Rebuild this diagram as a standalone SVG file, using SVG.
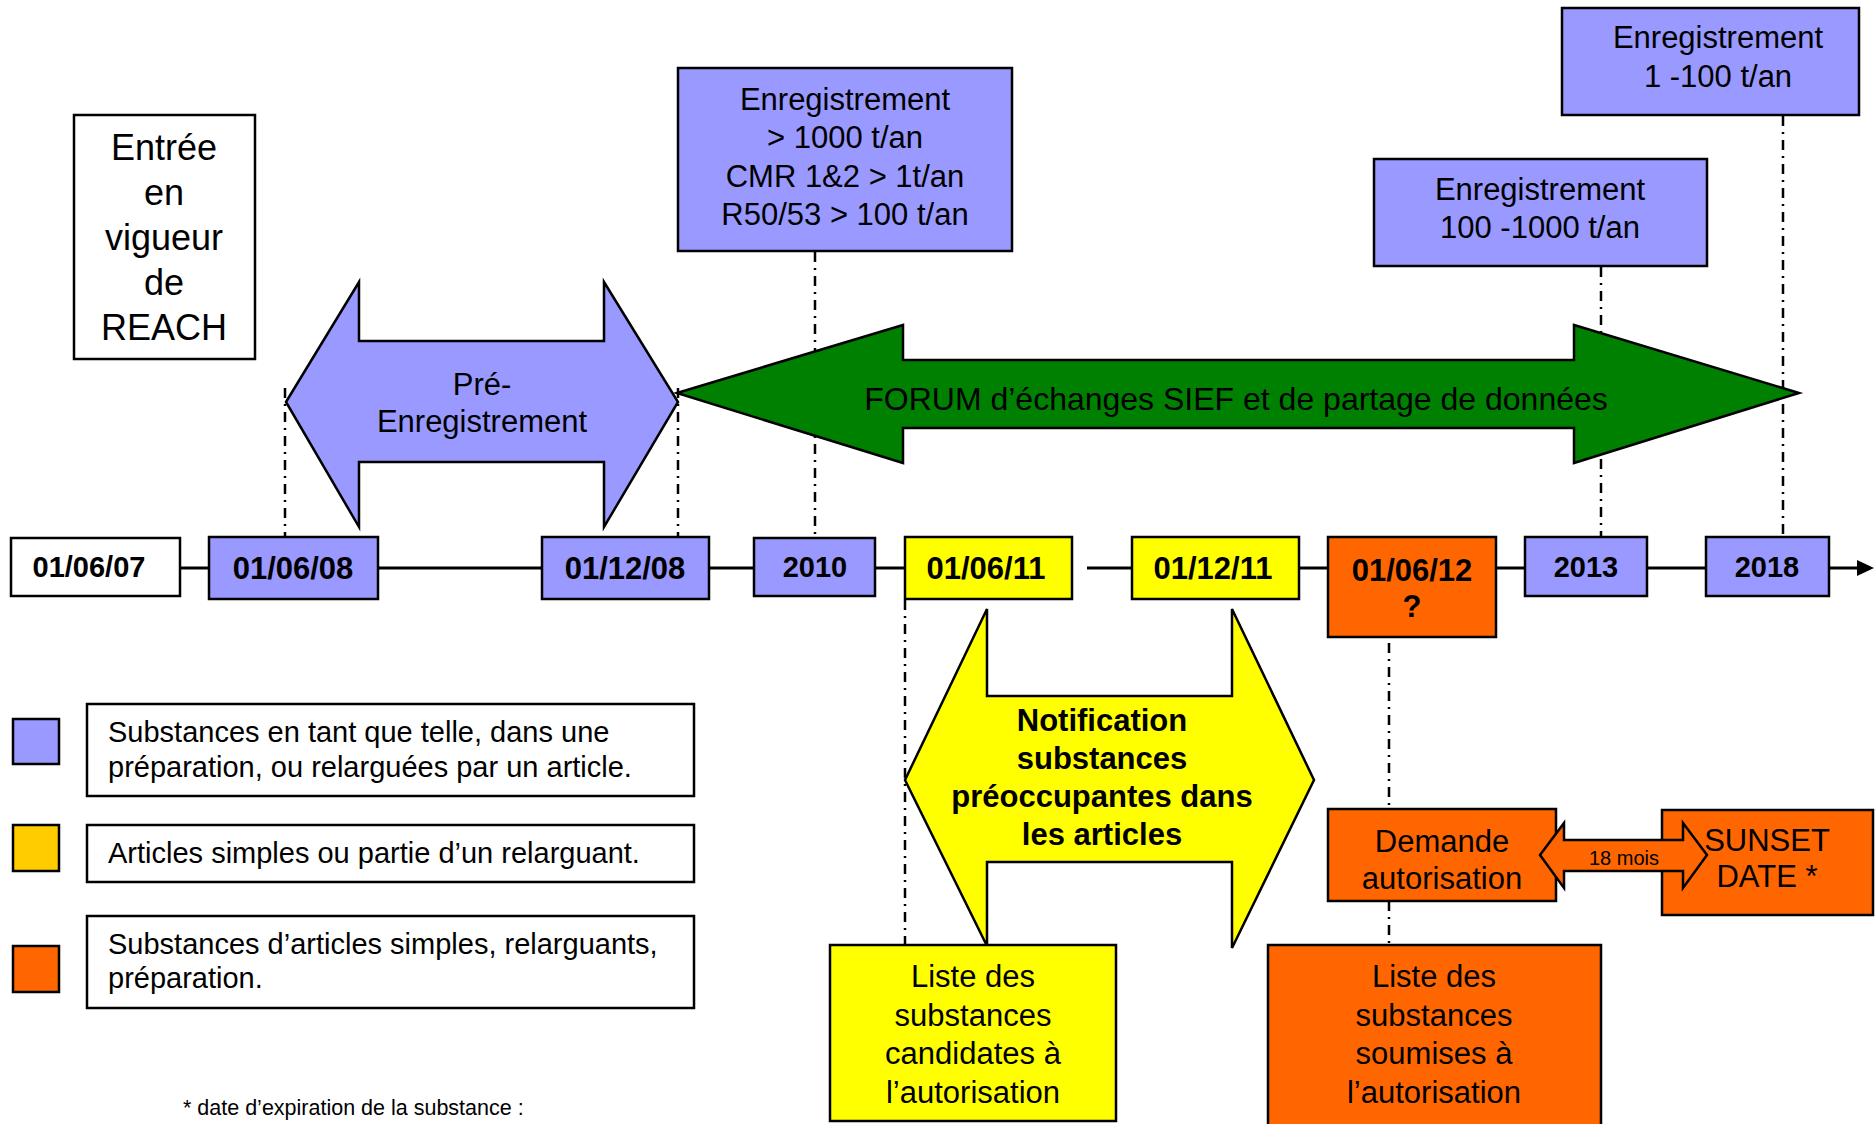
<svg xmlns="http://www.w3.org/2000/svg" width="1876" height="1124" viewBox="0 0 1876 1124">
<defs>
<style>
.box{stroke:#000;stroke-width:2.5}
.blue{fill:#9999FF}
.yel{fill:#FFFF00}
.org{fill:#FF6600}
.gold{fill:#FFCC00}
.wht{fill:#FFFFFF}
.grn{fill:#008000}
.t{font-family:"Liberation Sans",Arial,Helvetica,sans-serif;fill:#000}
.c{text-anchor:middle}
.b{font-weight:bold}
.f31{font-size:31px}
.f29{font-size:29px}
.dd{stroke:#000;stroke-width:2.5;stroke-dasharray:10 6 2 6;fill:none}
.tl{stroke:#000;stroke-width:3;fill:none}
</style>
</defs>
<rect width="1876" height="1124" fill="#FFFFFF"/>

<g id="connectors">
  <line class="tl" x1="180" y1="568" x2="1072" y2="568"/>
  <line class="tl" x1="1087" y1="568" x2="1860" y2="568"/>
  <polygon points="1857,560 1874,568 1857,576" fill="#000"/>
  <line class="dd" x1="285" y1="388" x2="285" y2="537"/>
  <line class="dd" x1="678" y1="388" x2="678" y2="537"/>
  <line class="dd" x1="815" y1="252" x2="815" y2="537"/>
  <line class="dd" x1="1601" y1="267" x2="1601" y2="537"/>
  <line class="dd" x1="1783" y1="116" x2="1783" y2="537"/>
  <line class="dd" x1="905" y1="600" x2="905" y2="945"/>
  <line class="dd" x1="1389" y1="643" x2="1389" y2="809"/>
  <line class="dd" x1="1389" y1="901" x2="1389" y2="945"/>
</g>

<g id="entree">
  <rect class="box wht" x="74" y="115" width="181" height="244"/>
  <text class="t c" font-size="36" x="164" y="160">Entrée</text>
  <text class="t c" font-size="36" x="164" y="205">en</text>
  <text class="t c" font-size="36" x="164" y="250">vigueur</text>
  <text class="t c" font-size="36" x="164" y="295">de</text>
  <text class="t c" font-size="36" x="164" y="340">REACH</text>
</g>

<g id="enreg1000">
  <rect class="box blue" x="678" y="68" width="334" height="183"/>
  <text class="t c f31" x="845" y="110">Enregistrement</text>
  <text class="t c f31" x="845" y="148">&gt; 1000 t/an</text>
  <text class="t c f31" x="845" y="187">CMR 1&amp;2 &gt; 1t/an</text>
  <text class="t c f31" x="845" y="225">R50/53 &gt; 100 t/an</text>
</g>

<g id="enreg100">
  <rect class="box blue" x="1374" y="159" width="333" height="107"/>
  <text class="t c f31" x="1540" y="200">Enregistrement</text>
  <text class="t c f31" x="1540" y="238">100 -1000 t/an</text>
</g>

<g id="enreg1">
  <rect class="box blue" x="1562" y="8" width="297" height="107"/>
  <text class="t c f31" x="1718" y="48">Enregistrement</text>
  <text class="t c f31" x="1718" y="87">1 -100 t/an</text>
</g>

<g id="prereg">
  <polygon class="box blue" points="286,402 359,282 359,341 604,341 604,282 678,402 604,527 604,462 359,462 359,527"/>
  <text class="t c f31" x="482" y="395">Pré-</text>
  <text class="t c f31" x="482" y="432">Enregistrement</text>
</g>

<g id="forum">
  <polygon class="box grn" points="677,393 903,325 903,360 1574,360 1574,325 1799,393 1574,463 1574,428 903,428 903,463"/>
  <text class="t c" font-size="32" x="1236" y="410">FORUM d’échanges SIEF et de partage de données</text>
</g>

<g id="d010607">
  <rect class="box wht" x="11" y="538" width="169" height="58"/>
  <text class="t c b f29" x="89" y="577">01/06/07</text>
</g>
<g id="d010608">
  <rect class="box blue" x="209" y="537" width="169" height="62"/>
  <text class="t c b f31" x="293" y="579">01/06/08</text>
</g>
<g id="d011208">
  <rect class="box blue" x="542" y="537" width="167" height="62"/>
  <text class="t c b f31" x="625" y="579">01/12/08</text>
</g>
<g id="d2010">
  <rect class="box blue" x="754" y="538" width="121" height="58"/>
  <text class="t c b f29" x="815" y="577">2010</text>
</g>
<g id="d010611">
  <rect class="box yel" x="905" y="537" width="167" height="62"/>
  <text class="t c b f31" x="986" y="579">01/06/11</text>
</g>
<g id="d011211">
  <rect class="box yel" x="1132" y="537" width="167" height="62"/>
  <text class="t c b f31" x="1213" y="579">01/12/11</text>
</g>
<g id="d010612">
  <rect class="box org" x="1328" y="537" width="168" height="100"/>
  <text class="t c b f31" x="1412" y="581">01/06/12</text>
  <text class="t c b f31" x="1412" y="617">?</text>
</g>
<g id="d2013">
  <rect class="box blue" x="1525" y="537" width="122" height="59"/>
  <text class="t c b f29" x="1586" y="577">2013</text>
</g>
<g id="d2018">
  <rect class="box blue" x="1706" y="537" width="123" height="59"/>
  <text class="t c b f29" x="1767" y="577">2018</text>
</g>

<g id="notification">
  <polygon class="box yel" points="905,780 987,609 987,696 1232,696 1232,609 1314,780 1232,948 1232,862 987,862 987,946"/>
  <text class="t c b f31" x="1102" y="731">Notification</text>
  <text class="t c b f31" x="1102" y="769">substances</text>
  <text class="t c b f31" x="1102" y="807">préoccupantes dans</text>
  <text class="t c b f31" x="1102" y="845">les articles</text>
</g>

<g id="liste-candidates">
  <rect class="box yel" x="830" y="945" width="286" height="176"/>
  <text class="t c f31" x="973" y="987">Liste des</text>
  <text class="t c f31" x="973" y="1026">substances</text>
  <text class="t c f31" x="973" y="1064">candidates à</text>
  <text class="t c f31" x="973" y="1103">l’autorisation</text>
</g>

<g id="liste-soumises">
  <rect class="box org" x="1268" y="945" width="333" height="190"/>
  <text class="t c f31" x="1434" y="987">Liste des</text>
  <text class="t c f31" x="1434" y="1026">substances</text>
  <text class="t c f31" x="1434" y="1064">soumises à</text>
  <text class="t c f31" x="1434" y="1103">l’autorisation</text>
</g>

<g id="demande">
  <rect class="box org" x="1328" y="809" width="228" height="92"/>
  <text class="t c f31" x="1442" y="852">Demande</text>
  <text class="t c f31" x="1442" y="889">autorisation</text>
</g>

<g id="sunset">
  <rect class="box org" x="1662" y="810" width="211" height="105"/>
  <text class="t c f31" x="1767" y="851">SUNSET</text>
  <text class="t c f31" x="1767" y="887">DATE *</text>
</g>

<g id="mois18">
  <polygon class="box org" points="1540,855 1564,823 1564,840 1683,840 1683,823 1707,855 1683,888 1683,871 1564,871 1564,888"/>
  <text class="t c" font-size="20" x="1624" y="865">18 mois</text>
</g>

<g id="legend">
  <rect class="box blue" x="13" y="719" width="46" height="45"/>
  <rect class="box wht" x="87" y="704" width="607" height="92"/>
  <text class="t f29" x="108" y="742">Substances en tant que telle, dans une</text>
  <text class="t f29" x="108" y="777">préparation, ou relarguées par un article.</text>
  <rect class="box gold" x="13" y="825" width="46" height="46"/>
  <rect class="box wht" x="87" y="825" width="607" height="57"/>
  <text class="t f29" x="108" y="863">Articles simples ou partie d’un relarguant.</text>
  <rect class="box org" x="13" y="946" width="46" height="46"/>
  <rect class="box wht" x="87" y="916" width="607" height="92"/>
  <text class="t f29" x="108" y="954">Substances d’articles simples, relarguants,</text>
  <text class="t f29" x="108" y="988">préparation.</text>
</g>

<g id="footnote">
  <text class="t" font-size="21.5" x="183" y="1115">* date d’expiration de la substance :</text>
</g>
</svg>
